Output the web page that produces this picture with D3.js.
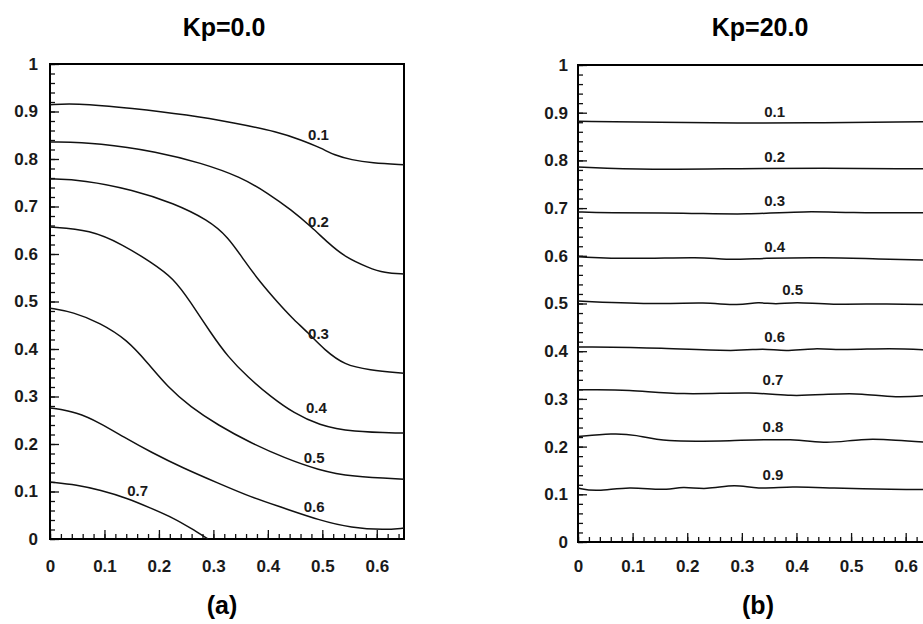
<!DOCTYPE html>
<html>
<head>
<meta charset="utf-8">
<script src="https://cdn.jsdelivr.net/npm/d3@7"></script>
<style>
    body { margin: 0; background: #fff; }
    svg { display: block; font-family: "Liberation Sans", Arial, Helvetica, sans-serif; }
    .contour { fill: none; stroke: #111; stroke-width: 1.5; }
    .frame { fill: none; stroke: #000; stroke-width: 2; }
</style>
</head>
<body>
<div id="chart"></div>
<script>
// contour levels
const levelsKp0 = [0.1, 0.2, 0.3, 0.4, 0.5, 0.6, 0.7];
const levelsKp20 = [0.1, 0.2, 0.3, 0.4, 0.5, 0.6, 0.7, 0.8, 0.9];

// Kp = 0.0, one [x, y] list per level
const kp0Curves = [
    [[0, 0.914], [0.042, 0.918], [0.153, 0.907], [0.253, 0.893], [0.338, 0.876], [0.419, 0.857], [0.461, 0.840], [0.498, 0.823], [0.522, 0.808], [0.554, 0.798], [0.590, 0.792], [0.65, 0.788]],
    [[0, 0.836], [0.092, 0.834], [0.197, 0.815], [0.277, 0.792], [0.351, 0.762], [0.400, 0.728], [0.443, 0.693], [0.480, 0.657], [0.511, 0.623], [0.541, 0.594], [0.585, 0.571], [0.614, 0.560], [0.65, 0.558]],
    [[0, 0.758], [0.061, 0.756], [0.153, 0.735], [0.227, 0.707], [0.290, 0.672], [0.327, 0.636], [0.356, 0.587], [0.387, 0.539], [0.419, 0.497], [0.443, 0.467], [0.474, 0.434], [0.504, 0.398], [0.541, 0.366], [0.585, 0.356], [0.65, 0.349]],
    [[0, 0.657], [0.074, 0.651], [0.135, 0.619], [0.185, 0.583], [0.227, 0.549], [0.258, 0.499], [0.295, 0.434], [0.327, 0.383], [0.363, 0.341], [0.406, 0.299], [0.448, 0.265], [0.493, 0.240], [0.554, 0.225], [0.65, 0.223]],
    [[0, 0.486], [0.042, 0.478], [0.092, 0.455], [0.142, 0.419], [0.179, 0.371], [0.216, 0.320], [0.258, 0.278], [0.308, 0.240], [0.369, 0.202], [0.430, 0.171], [0.493, 0.145], [0.554, 0.131], [0.65, 0.126]],
    [[0, 0.276], [0.05, 0.267], [0.092, 0.244], [0.135, 0.215], [0.185, 0.183], [0.245, 0.149], [0.308, 0.118], [0.369, 0.088], [0.430, 0.065], [0.493, 0.040], [0.554, 0.023], [0.614, 0.019], [0.65, 0.023]],
    [[0, 0.120], [0.05, 0.114], [0.092, 0.103], [0.142, 0.086], [0.185, 0.065], [0.227, 0.044], [0.258, 0.023], [0.290, 0.0]]
];
const kp0LabelAt = [[0.493, 0.851], [0.493, 0.667], [0.493, 0.432], [0.489, 0.276], [0.485, 0.171], [0.485, 0.067], [0.161, 0.101]];

// Kp = 20.0, nearly flat lines with small wiggles
const kp20Curves = [
    [[0, 0.882], [0.15, 0.880], [0.3, 0.878], [0.45, 0.879], [0.6, 0.881], [0.65, 0.881]],
    [[0, 0.786], [0.13, 0.780], [0.3, 0.783], [0.45, 0.784], [0.6, 0.782], [0.65, 0.783]],
    [[0, 0.692], [0.046, 0.690], [0.2, 0.690], [0.31, 0.686], [0.42, 0.694], [0.49, 0.690], [0.65, 0.690]],
    [[0, 0.598], [0.095, 0.593], [0.23, 0.598], [0.265, 0.591], [0.34, 0.595], [0.45, 0.597], [0.55, 0.593], [0.65, 0.591]],
    [[0, 0.505], [0.155, 0.498], [0.23, 0.503], [0.296, 0.495], [0.33, 0.504], [0.362, 0.497], [0.397, 0.504], [0.46, 0.497], [0.57, 0.500], [0.65, 0.497]],
    [[0, 0.409], [0.155, 0.407], [0.296, 0.399], [0.338, 0.407], [0.38, 0.399], [0.43, 0.407], [0.49, 0.402], [0.57, 0.407], [0.65, 0.402]],
    [[0, 0.319], [0.095, 0.320], [0.186, 0.308], [0.326, 0.315], [0.388, 0.305], [0.46, 0.310], [0.52, 0.312], [0.58, 0.302], [0.65, 0.308]],
    [[0, 0.221], [0.064, 0.228], [0.106, 0.225], [0.155, 0.210], [0.278, 0.212], [0.40, 0.217], [0.453, 0.205], [0.52, 0.217], [0.58, 0.214], [0.65, 0.208]],
    [[0, 0.113], [0.033, 0.105], [0.095, 0.117], [0.155, 0.107], [0.192, 0.117], [0.234, 0.109], [0.289, 0.122], [0.326, 0.110], [0.393, 0.117], [0.46, 0.113], [0.58, 0.110], [0.65, 0.110]]
];
const kp20LabelAt = [[0.36, 0.901], [0.36, 0.807], [0.36, 0.715], [0.36, 0.618], [0.393, 0.528], [0.36, 0.430], [0.357, 0.340], [0.357, 0.241], [0.357, 0.140]];

// axes
const xTicks = [0, 0.1, 0.2, 0.3, 0.4, 0.5, 0.6];
const yTicks = [0, 0.1, 0.2, 0.3, 0.4, 0.5, 0.6, 0.7, 0.8, 0.9, 1];
const titles = ["Kp=0.0", "Kp=20.0"];
const captions = ["(a)", "(b)"];

const width = 923, height = 624;
const svg = d3.select("#chart").append("svg").attr("width", width).attr("height", height);

function tickText(d) {
    if (d === 0 || d === 1) return String(d);
    return d.toFixed(1);
}

function drawPanel(p) {
    let x = d3.scaleLinear().domain([0, 0.65]).range([p.left, p.right]);
    let y = d3.scaleLinear().domain([0, 1]).range([p.bottom, p.top]);
    let g = svg.append("g");

    // minor ticks every 0.02
    let xMinor = d3.range(0, 0.651, 0.02);
    let yMinor = d3.range(0, 1.001, 0.02);

    g.append("g").attr("transform", `translate(0,${p.bottom})`)
        .call(d3.axisBottom(x).tickValues(xMinor).tickSize(-5).tickFormat(""))
        .call(a => a.select(".domain").remove());
    g.append("g").attr("transform", `translate(${p.left},0)`)
        .call(d3.axisLeft(y).tickValues(yMinor).tickSize(-5).tickFormat(""))
        .call(a => a.select(".domain").remove());

    let xa = g.append("g").attr("transform", `translate(0,${p.bottom})`)
        .call(d3.axisBottom(x).tickValues(xTicks).tickSize(-9).tickPadding(p.xPad).tickFormat(tickText));
    let ya = g.append("g").attr("transform", `translate(${p.left},0)`)
        .call(d3.axisLeft(y).tickValues(yTicks).tickSize(-9).tickPadding(p.yPad).tickFormat(tickText));
    [xa, ya].forEach(a => {
        a.select(".domain").remove();
        a.attr("font-family", null).attr("font-size", 17).attr("font-weight", "bold");
        a.selectAll("text").attr("fill", "#1a1a1a");
    });
    g.selectAll(".tick line").attr("stroke", "#111").attr("stroke-width", 1.3);

    g.append("rect").attr("class", "frame")
        .attr("x", p.left).attr("y", p.top)
        .attr("width", x(0.65) - p.left).attr("height", p.bottom - p.top);

    let line = d3.line().x(d => x(d[0])).y(d => y(d[1])).curve(d3.curveBasis);
    g.append("g").selectAll("path").data(p.curves).enter().append("path")
        .attr("class", "contour")
        .attr("d", line);

    g.append("g").selectAll("text").data(p.levels).enter().append("text")
        .attr("x", (d, i) => x(p.labels[i][0]))
        .attr("y", (d, i) => y(p.labels[i][1]))
        .attr("dy", "0.35em")
        .attr("text-anchor", "middle")
        .attr("font-size", 15)
        .attr("font-weight", "bold")
        .attr("fill", "#1a1a1a")
        .text(d => d.toFixed(1));

    svg.append("text").attr("x", p.titleX).attr("y", 36)
        .attr("text-anchor", "middle").attr("font-size", 25).attr("font-weight", "bold")
        .text(p.title);
    svg.append("text").attr("x", p.titleX - 2).attr("y", 614)
        .attr("text-anchor", "middle").attr("font-size", 25).attr("font-weight", "bold")
        .text(p.caption);
}

drawPanel({
    left: 50, right: 404, top: 64, bottom: 539, xPad: 21, yPad: 12,
    curves: kp0Curves, levels: levelsKp0, labels: kp0LabelAt,
    title: titles[0], caption: captions[0], titleX: 224
});
drawPanel({
    left: 578, right: 933, top: 65, bottom: 542, xPad: 18, yPad: 10,
    curves: kp20Curves, levels: levelsKp20, labels: kp20LabelAt,
    title: titles[1], caption: captions[1], titleX: 760
});
</script>
</body>
</html>
